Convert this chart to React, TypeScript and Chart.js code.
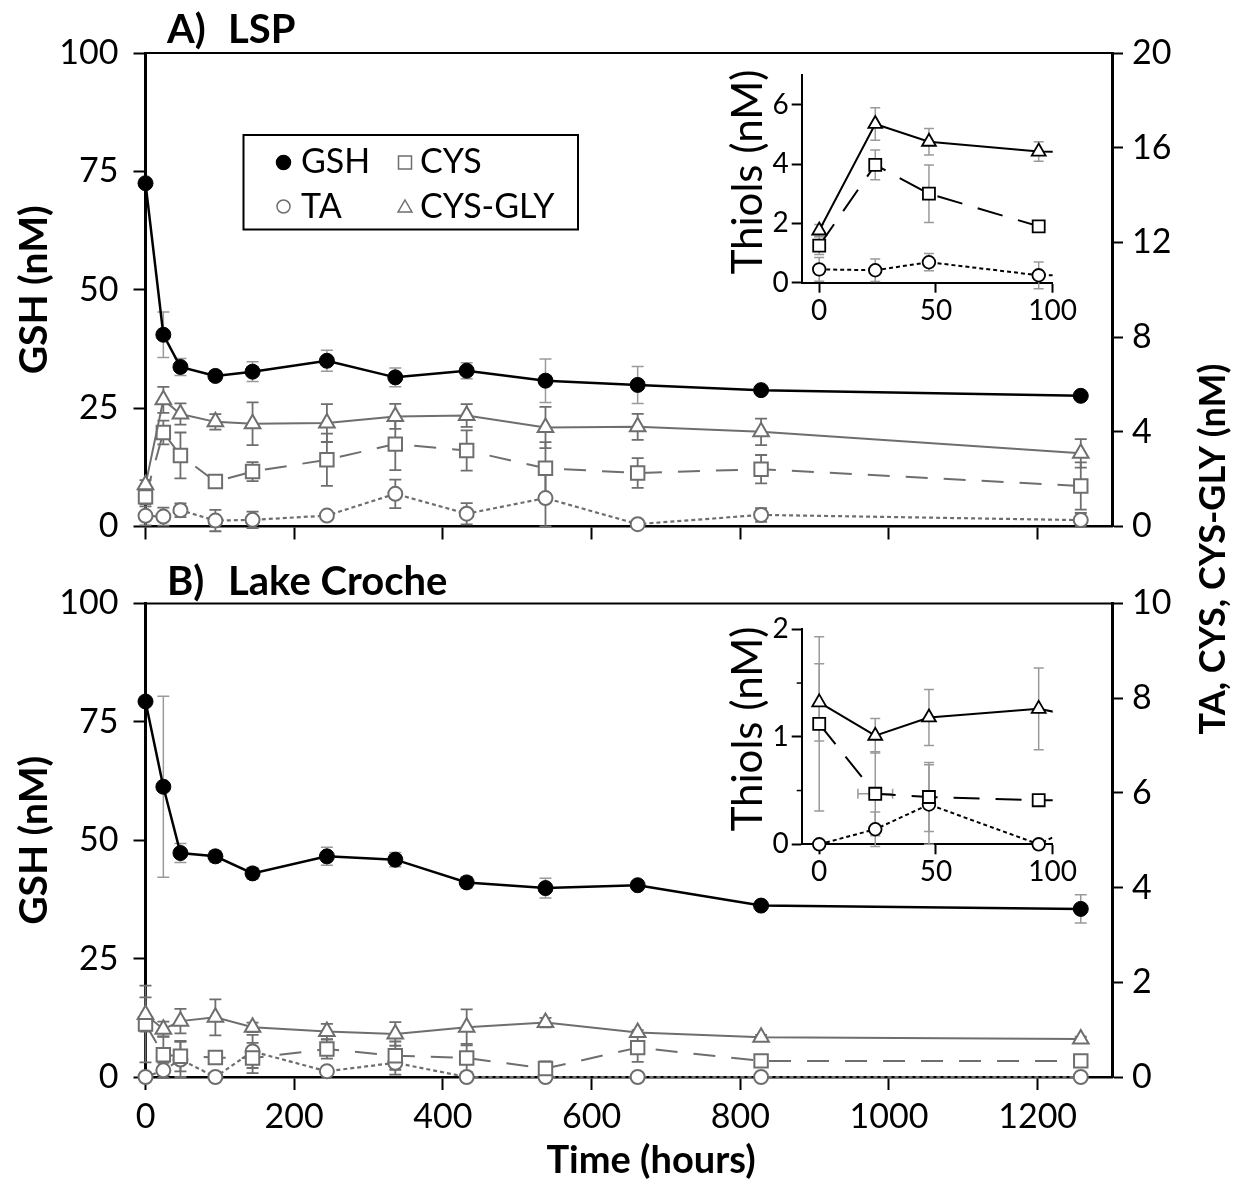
import React, { useEffect, useRef } from 'react';
import { Chart, registerables } from 'chart.js';

Chart.register(...registerables);

const W = 1235;
const H = 1184;
const FONT = 'Lato';
const GREY = '#6e6e6e';
const ERR_LIGHT = '#9a9a9a';

// ---------- data ----------
const TIMES = [0, 24, 47, 94, 144, 244, 336, 432, 538, 662, 828, 1258];
const X_TICKS = [0, 200, 400, 600, 800, 1000, 1200];
const GSH_TICKS = [0, 25, 50, 75, 100];
const A_RIGHT_TICKS = [0, 4, 8, 12, 16, 20];
const B_RIGHT_TICKS = [0, 2, 4, 6, 8, 10];
const INSET_X_TICKS = [0, 50, 100];
const A_INSET_Y_TICKS = [0, 2, 4, 6];
const B_INSET_Y_TICKS = [0, 1, 2];
const B_INSET_MINOR = [0.5, 1.5];

// Panel A (LSP)
const A_GSH = [72.5, 40.5, 33.7, 31.8, 32.7, 35.0, 31.5, 32.9, 30.8, 29.9, 28.8, 27.6];
const A_GSH_ERR = [0, 4.8, 1.8, 1.0, 2.1, 2.2, 2.0, 1.7, 4.6, 3.9, 0, 0];
const A_CYSGLY = [1.76, 5.35, 4.75, 4.42, 4.34, 4.37, 4.65, 4.69, 4.18, 4.21, 4.0, 3.09];
const A_CYSGLY_ERR = [0.2, 0.55, 0.45, 0.33, 0.9, 0.8, 0.53, 0.48, 0.87, 0.55, 0.56, 0.6];
const A_CYS = [1.25, 3.97, 3.0, 1.9, 2.32, 2.82, 3.48, 3.21, 2.46, 2.26, 2.42, 1.71];
const A_CYS_ERR = [0.3, 0.5, 0.97, 0.15, 0.4, 1.1, 1.1, 0.85, 1.1, 0.63, 0.6, 1.0];
const A_TA = [0.45, 0.42, 0.69, 0.25, 0.28, 0.46, 1.38, 0.54, 1.2, 0.1, 0.49, 0.27];
const A_TA_ERR = [0.4, 0.38, 0.29, 0.45, 0.35, 0.1, 0.6, 0.45, 1.2, 0.05, 0.29, 0.3];

// Panel B (Lake Croche)
const B_GSH = [79.3, 61.3, 47.3, 46.6, 43.0, 46.6, 45.9, 41.1, 39.9, 40.5, 36.2, 35.5];
const B_GSH_ERR = [0, 19.1, 2.0, 1.2, 1.2, 1.9, 1.5, 1.2, 2.1, 0.5, 0.5, 3.0];
const B_CYSGLY = [1.32, 1.01, 1.18, 1.26, 1.05, 0.96, 0.91, 1.05, 1.15, 0.94, 0.84, 0.8];
const B_CYSGLY_ERR = [0.36, 0.16, 0.26, 0.38, 0.1, 0.16, 0.25, 0.38, 0.1, 0.05, 0.05, 0.05];
const B_CYS = [1.12, 0.47, 0.44, 0.41, 0.4, 0.59, 0.45, 0.4, 0.18, 0.62, 0.34, 0.34];
const B_CYS_ERR = [0.81, 0.39, 0.32, 0.05, 0.32, 0.2, 0.3, 0.3, 0.15, 0.3, 0.05, 0.05];
const B_CYS_XERR = [0, 4, 0, 0, 0, 0, 0, 0, 0, 0, 0, 0];
const B_TA = [0, 0.14, 0.37, 0, 0.54, 0.12, 0.3, 0, 0, 0, 0, 0];
const B_TA_ERR = [0, 0.16, 0.37, 0, 0.35, 0, 0.25, 0, 0, 0, 0, 0];

const LEGEND_LABELS = ['GSH', 'CYS', 'TA', 'CYS-GLY'];

// ---------- helpers ----------
const pts = (vals: number[]) => TIMES.map((t, i) => ({ x: t, y: vals[i] }));
const tickList = (arr: number[]) => (s: any) => {
  s.ticks = arr.map((v) => ({ value: v }));
};

function drawMarker(ctx: CanvasRenderingContext2D, style: string, x: number, y: number, r: number, fill: string, stroke: string, lw: number) {
  ctx.save();
  ctx.setLineDash([]);
  ctx.fillStyle = fill;
  ctx.strokeStyle = stroke;
  ctx.lineWidth = lw;
  ctx.beginPath();
  if (style === 'circle') {
    ctx.arc(x, y, r, 0, Math.PI * 2);
  } else if (style === 'rect') {
    ctx.rect(x - r, y - r, 2 * r, 2 * r);
  } else {
    ctx.moveTo(x, y - r);
    ctx.lineTo(x + r * 0.866, y + r * 0.5);
    ctx.lineTo(x - r * 0.866, y + r * 0.5);
    ctx.closePath();
  }
  ctx.fill();
  ctx.stroke();
  ctx.restore();
}

// ---------- plugins ----------
const errorBars = {
  id: 'errorBars',
  beforeDatasetsDraw(chart: any, _a: any, opts: any) {
    const { ctx, chartArea: a } = chart;
    const c = opts.clip || { left: 20, right: 20, top: 20, bottom: 20 };
    const cap = opts.cap ?? 6;
    ctx.save();
    ctx.beginPath();
    ctx.rect(a.left - c.left, a.top - c.top, a.right - a.left + c.left + c.right, a.bottom - a.top + c.top + c.bottom);
    ctx.clip();
    chart.data.datasets.forEach((ds: any, i: number) => {
      if (!ds.errors) return;
      const meta = chart.getDatasetMeta(i);
      const ys = chart.scales[ds.yAxisID];
      const xs = chart.scales.x;
      ctx.strokeStyle = ds.errColor;
      ctx.lineWidth = ds.errWidth;
      ctx.setLineDash([]);
      ds.data.forEach((p: any, j: number) => {
        const e = ds.errors[j];
        const x = meta.data[j].x;
        const y = meta.data[j].y;
        if (e) {
          const y1 = ys.getPixelForValue(p.y + e);
          const y2 = ys.getPixelForValue(p.y - e);
          ctx.beginPath();
          ctx.moveTo(x, y1);
          ctx.lineTo(x, y2);
          ctx.moveTo(x - cap, y1);
          ctx.lineTo(x + cap, y1);
          ctx.moveTo(x - cap, y2);
          ctx.lineTo(x + cap, y2);
          ctx.stroke();
        }
        const xe = ds.xErrors ? ds.xErrors[j] : 0;
        if (xe) {
          const x1 = xs.getPixelForValue(p.x - xe);
          const x2 = xs.getPixelForValue(p.x + xe);
          ctx.beginPath();
          ctx.moveTo(x1 - 8, y);
          ctx.lineTo(x2 + 8, y);
          ctx.moveTo(x1 - 8, y - cap);
          ctx.lineTo(x1 - 8, y + cap);
          ctx.moveTo(x2 + 8, y - cap);
          ctx.lineTo(x2 + 8, y + cap);
          ctx.stroke();
        }
      });
    });
    ctx.restore();
  },
};

const frame = {
  id: 'frame',
  beforeDatasetsDraw(chart: any, _a: any, opts: any) {
    if (!opts.top) return;
    const { ctx, chartArea: a } = chart;
    ctx.save();
    ctx.strokeStyle = '#000';
    ctx.lineWidth = 2;
    ctx.beginPath();
    ctx.moveTo(a.left, a.top);
    ctx.lineTo(a.right, a.top);
    ctx.stroke();
    ctx.restore();
  },
};

const minorTicks = {
  id: 'minorTicks',
  afterDraw(chart: any, _a: any, opts: any) {
    if (!opts.values) return;
    const { ctx } = chart;
    const ys = chart.scales.y;
    ctx.save();
    ctx.strokeStyle = '#000';
    ctx.lineWidth = 1.5;
    opts.values.forEach((v: number) => {
      const y = ys.getPixelForValue(v);
      ctx.beginPath();
      ctx.moveTo(ys.right - 5, y);
      ctx.lineTo(ys.right, y);
      ctx.stroke();
    });
    ctx.restore();
  },
};

const texts = {
  id: 'texts',
  afterDraw(chart: any, _a: any, opts: any) {
    if (!opts.items) return;
    const { ctx } = chart;
    opts.items.forEach((it: any) => {
      ctx.save();
      ctx.fillStyle = '#000';
      ctx.font = it.font;
      ctx.textAlign = it.align || 'left';
      ctx.textBaseline = 'alphabetic';
      ctx.translate(it.x, it.y);
      if (it.rotate) ctx.rotate(it.rotate);
      ctx.fillText(it.text, 0, 0);
      ctx.restore();
    });
  },
};

const legendBox = {
  id: 'legendBox',
  afterDraw(chart: any, _a: any, opts: any) {
    if (!opts.items) return;
    const { ctx } = chart;
    ctx.save();
    ctx.strokeStyle = '#000';
    ctx.lineWidth = 2;
    ctx.setLineDash([]);
    ctx.strokeRect(opts.box.x, opts.box.y, opts.box.w, opts.box.h);
    opts.items.forEach((it: any) => {
      drawMarker(ctx, it.style, it.mx, it.my, it.r, it.fill, it.stroke, 1.5);
      ctx.fillStyle = '#000';
      ctx.font = opts.font;
      ctx.textAlign = 'left';
      ctx.textBaseline = 'alphabetic';
      ctx.fillText(it.text, it.tx, it.ty);
    });
    ctx.restore();
  },
};

// ---------- configs ----------
const tickGrid = (len: number, w = 2) => ({
  display: true,
  drawOnChartArea: false,
  drawTicks: true,
  tickLength: len,
  tickWidth: w,
  tickColor: '#000',
});
const fmt = (v: any) => String(v);

function makeMain(panel: 'A' | 'B'): any {
  const isA = panel === 'A';
  const top = isA ? 53 : 603.5;
  const bottom = isA ? 526.5 : 1077;
  const xH = isA ? 20 : 60;
  const gsh = isA ? A_GSH : B_GSH;
  const gshE = isA ? A_GSH_ERR : B_GSH_ERR;
  const cg = isA ? A_CYSGLY : B_CYSGLY;
  const cgE = isA ? A_CYSGLY_ERR : B_CYSGLY_ERR;
  const cy = isA ? A_CYS : B_CYS;
  const cyE = isA ? A_CYS_ERR : B_CYS_ERR;
  const ta = isA ? A_TA : B_TA;
  const taE = isA ? A_TA_ERR : B_TA_ERR;
  const clip = 16;
  const grey = (extra: any) => ({
    yAxisID: 'y2',
    borderColor: GREY,
    borderWidth: 2,
    pointBackgroundColor: '#fff',
    pointBorderColor: GREY,
    pointBorderWidth: 2,
    errColor: GREY,
    errWidth: 1.8,
    clip,
    ...extra,
  });
  const items: any[] = [
    { text: isA ? 'A)' : 'B)', x: 167, y: isA ? 43 : 595, font: `bold 40px ${FONT}` },
    { text: isA ? 'LSP' : 'Lake Croche', x: 228, y: isA ? 43 : 595, font: `bold 40px ${FONT}` },
    { text: 'GSH (nM)', x: 47, y: (top + bottom) / 2, rotate: -Math.PI / 2, align: 'center', font: `bold 39px ${FONT}` },
  ];
  if (isA) {
    items.push({ text: 'TA, CYS, CYS-GLY (nM)', x: 1225, y: 549, rotate: -Math.PI / 2, align: 'center', font: `bold 36px ${FONT}` });
  } else {
    items.push({ text: 'Time (hours)', x: 651, y: 1173, align: 'center', font: `bold 38px ${FONT}` });
  }
  return {
    type: 'line',
    data: {
      datasets: [
        {
          label: 'GSH',
          data: pts(gsh),
          errors: gshE,
          errColor: ERR_LIGHT,
          errWidth: 1.5,
          yAxisID: 'y',
          borderColor: '#000',
          borderWidth: 2.5,
          pointStyle: 'circle',
          pointRadius: 7.5,
          pointBackgroundColor: '#000',
          pointBorderColor: '#000',
          pointBorderWidth: 1,
          clip,
        },
        grey({ label: 'CYS-GLY', data: pts(cg), errors: cgE, pointStyle: 'triangle', pointRadius: 9 }),
        grey({ label: 'CYS', data: pts(cy), errors: cyE, pointStyle: 'rect', pointRadius: 9.5, borderDash: [22, 16] }),
        grey({ label: 'TA', data: pts(ta), errors: taE, pointStyle: 'circle', pointRadius: 7, borderDash: [4, 3], borderWidth: 2.2 }),
      ],
    },
    options: {
      responsive: false,
      animation: false,
      devicePixelRatio: 1,
      events: [],
      layout: { padding: { top, left: 0, right: 0, bottom: H - bottom - xH } },
      plugins: {
        legend: { display: false },
        tooltip: { enabled: false },
        errorBars: { cap: 6, clip: { left: 20, right: 20, top: 20, bottom: 14 } },
        frame: { top: true },
        texts: { items },
        legendBox: isA
          ? {
              box: { x: 243.5, y: 135, w: 334.5, h: 94.5 },
              font: `34px ${FONT}`,
              items: [
                { text: LEGEND_LABELS[0], style: 'circle', mx: 283.5, my: 162.5, r: 7, fill: '#000', stroke: '#000', tx: 301, ty: 173 },
                { text: LEGEND_LABELS[1], style: 'rect', mx: 405, my: 162.5, r: 6.5, fill: '#fff', stroke: GREY, tx: 420, ty: 173 },
                { text: LEGEND_LABELS[2], style: 'circle', mx: 283.5, my: 206.5, r: 6.5, fill: '#fff', stroke: GREY, tx: 301, ty: 218 },
                { text: LEGEND_LABELS[3], style: 'tri', mx: 405, my: 208, r: 8, fill: '#fff', stroke: GREY, tx: 420, ty: 218 },
              ],
            }
          : {},
      },
      scales: {
        x: {
          type: 'linear',
          min: 0,
          max: 1300,
          afterBuildTicks: tickList(X_TICKS),
          afterFit: (s: any) => {
            s.height = xH;
          },
          grid: tickGrid(13, 2),
          border: { display: true, color: '#000', width: 2.5 },
          ticks: { display: !isA, font: { family: FONT, size: 34 }, color: '#000', padding: 7, maxRotation: 0, autoSkip: false, callback: fmt },
        },
        y: {
          type: 'linear',
          position: 'left',
          min: 0,
          max: 100,
          afterBuildTicks: tickList(GSH_TICKS),
          afterFit: (s: any) => {
            s.width = 145.5;
          },
          grid: tickGrid(12, 2),
          border: { display: true, color: '#000', width: 3 },
          ticks: { font: { family: FONT, size: 34 }, color: '#000', padding: 15, callback: fmt },
        },
        y2: {
          type: 'linear',
          position: 'right',
          min: 0,
          max: isA ? 20 : 10,
          afterBuildTicks: tickList(isA ? A_RIGHT_TICKS : B_RIGHT_TICKS),
          afterFit: (s: any) => {
            s.width = W - 1112;
          },
          grid: tickGrid(11, 2),
          border: { display: true, color: '#000', width: 3 },
          ticks: { font: { family: FONT, size: 34 }, color: '#000', padding: 9, callback: fmt },
        },
      },
    },
    plugins: [errorBars, frame, texts, legendBox],
  };
}

function makeInset(panel: 'A' | 'B'): any {
  const isA = panel === 'A';
  const top = isA ? 75 : 629.3;
  const bottom = isA ? 282.7 : 844.3;
  const left = 801.7;
  const right = 1052.7;
  const yW = 60;
  const xH = 45;
  const cg = isA ? A_CYSGLY : B_CYSGLY;
  const cgE = isA ? A_CYSGLY_ERR : B_CYSGLY_ERR;
  const cy = isA ? A_CYS : B_CYS;
  const cyE = isA ? A_CYS_ERR : B_CYS_ERR;
  const ta = isA ? A_TA : B_TA;
  const taE = isA ? A_TA_ERR : B_TA_ERR;
  const clip = { left: 14, top: 14, right: 0, bottom: 14 };
  const blk = (extra: any) => ({
    yAxisID: 'y',
    borderColor: '#000',
    borderWidth: 2,
    pointBackgroundColor: '#fff',
    pointBorderColor: '#000',
    pointBorderWidth: 1.8,
    errColor: ERR_LIGHT,
    errWidth: 1.5,
    clip,
    ...extra,
  });
  return {
    type: 'line',
    data: {
      datasets: [
        blk({ label: 'CYS-GLY', data: pts(cg), errors: cgE, pointStyle: 'triangle', pointRadius: 8 }),
        blk({ label: 'CYS', data: pts(cy), errors: cyE, xErrors: isA ? null : B_CYS_XERR, pointStyle: 'rect', pointRadius: 8.5, borderDash: [26, 16] }),
        blk({ label: 'TA', data: pts(ta), errors: taE, pointStyle: 'circle', pointRadius: 6.3, borderDash: [4, 3] }),
      ],
    },
    options: {
      responsive: false,
      animation: false,
      devicePixelRatio: 1,
      events: [],
      layout: { padding: { top, left: left - yW, right: W - right, bottom: H - bottom - xH } },
      plugins: {
        legend: { display: false },
        tooltip: { enabled: false },
        errorBars: { cap: 5, clip },
        frame: {},
        minorTicks: isA ? {} : { values: B_INSET_MINOR },
        texts: {
          items: [{ text: 'Thiols (nM)', x: 762, y: isA ? 172 : 729, rotate: -Math.PI / 2, align: 'center', font: `42px ${FONT}` }],
        },
        legendBox: {},
      },
      scales: {
        x: {
          type: 'linear',
          min: -7.5,
          max: 100,
          afterBuildTicks: tickList(INSET_X_TICKS),
          afterFit: (s: any) => {
            s.height = xH;
          },
          grid: tickGrid(10, 2),
          border: { display: true, color: '#000', width: 2 },
          ticks: { font: { family: FONT, size: 28 }, color: '#000', padding: 1, maxRotation: 0, autoSkip: false, callback: fmt },
        },
        y: {
          type: 'linear',
          position: 'left',
          min: 0,
          max: isA ? 7 : 2,
          afterBuildTicks: tickList(isA ? A_INSET_Y_TICKS : B_INSET_Y_TICKS),
          afterFit: (s: any) => {
            s.width = yW;
          },
          grid: tickGrid(10, 2),
          border: { display: true, color: '#000', width: 2 },
          ticks: { font: { family: FONT, size: 28 }, color: '#000', padding: 3, callback: fmt },
        },
      },
    },
    plugins: [errorBars, frame, minorTicks, texts, legendBox],
  };
}

export default function App() {
  const rA = useRef<HTMLCanvasElement>(null);
  const rB = useRef<HTMLCanvasElement>(null);
  const rIA = useRef<HTMLCanvasElement>(null);
  const rIB = useRef<HTMLCanvasElement>(null);

  useEffect(() => {
    const charts = [
      new Chart(rA.current as HTMLCanvasElement, makeMain('A')),
      new Chart(rB.current as HTMLCanvasElement, makeMain('B')),
      new Chart(rIA.current as HTMLCanvasElement, makeInset('A')),
      new Chart(rIB.current as HTMLCanvasElement, makeInset('B')),
    ];
    return () => charts.forEach((c) => c.destroy());
  }, []);

  const cs: React.CSSProperties = { position: 'absolute', left: 0, top: 0, width: W, height: H };
  return (
    <div style={{ position: 'absolute', left: 0, top: 0, width: W, height: H, background: '#fff', overflow: 'hidden' }}>
      <canvas ref={rA} width={W} height={H} style={cs} />
      <canvas ref={rB} width={W} height={H} style={cs} />
      <canvas ref={rIA} width={W} height={H} style={cs} />
      <canvas ref={rIB} width={W} height={H} style={cs} />
    </div>
  );
}
